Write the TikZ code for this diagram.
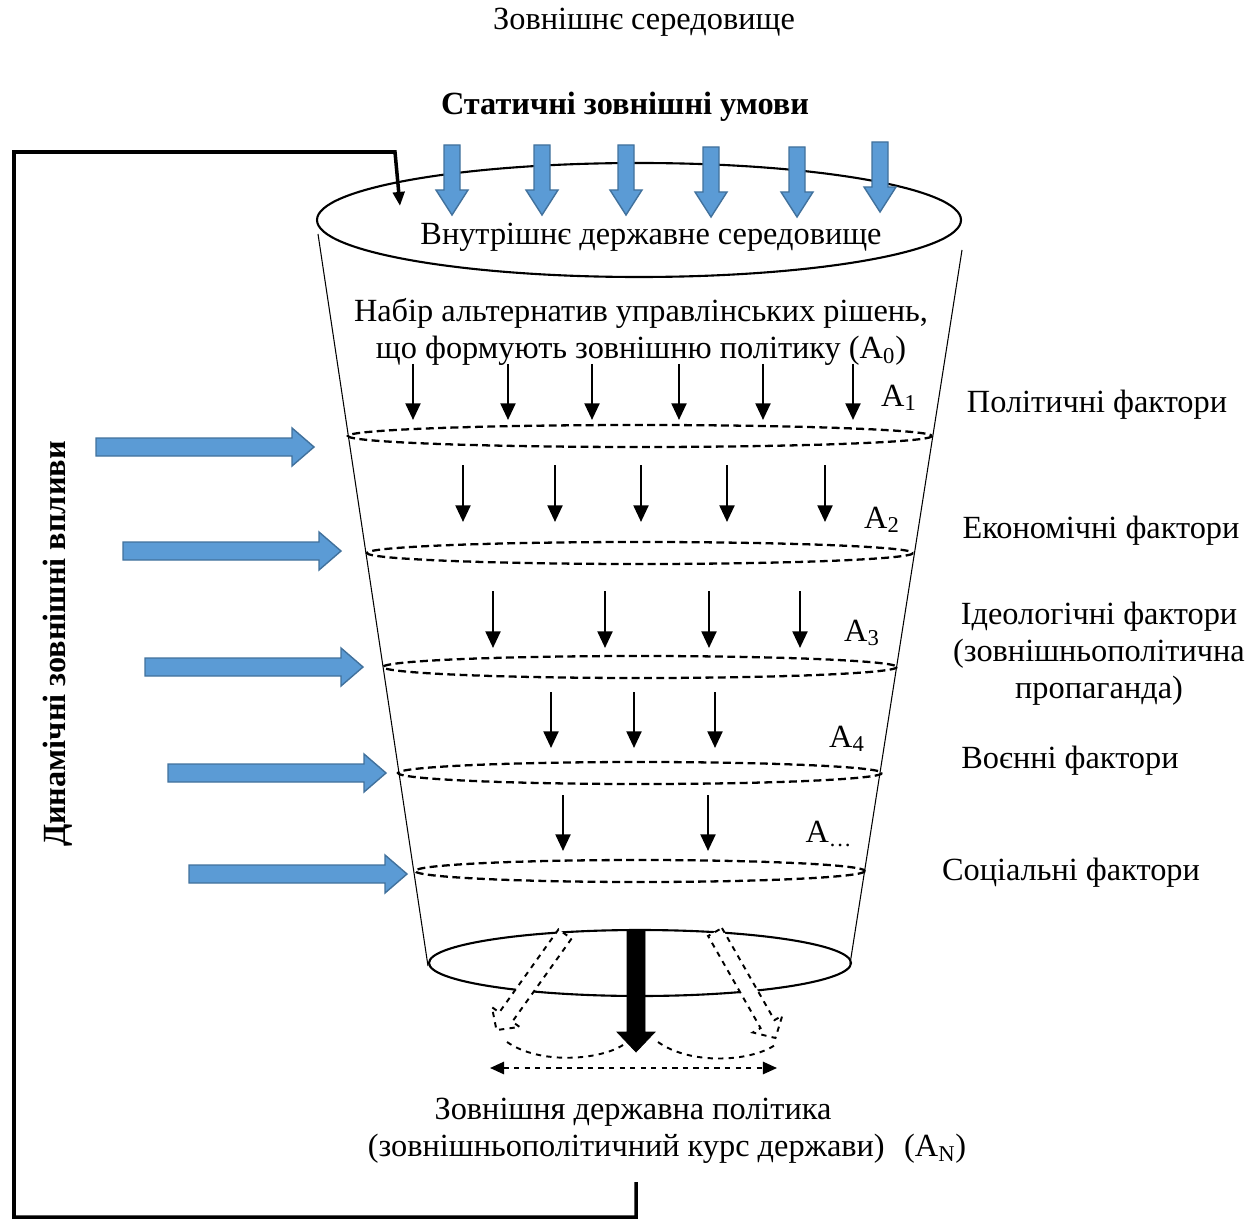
\documentclass[tikz,border=0pt]{standalone}
\usepackage{fontspec}
\setmainfont{Liberation Serif}
\usetikzlibrary{arrows.meta}

\definecolor{blockfill}{HTML}{5B9BD5}
\definecolor{blockline}{HTML}{41719C}

% block arrow: style, tail (x,y), angle, length, shaft half-width, head half-width, head length
\newcommand{\blockarrow}[8]{%
  \draw[#1, shift={(#2,#3)}, rotate=#4]
    (0,-#6) -- ({#5-#8},-#6) -- ({#5-#8},-#7) -- (#5,0)
    -- ({#5-#8},#7) -- ({#5-#8},#6) -- (0,#6) -- cycle;}

\begin{document}
\begin{tikzpicture}[x=0.02cm, y=-0.02cm,
    font=\fontsize{18.4}{21}\selectfont,
    bluearrow/.style={fill=blockfill, draw=blockline, line width=0.8pt},
    hollowarrow/.style={draw, dashed, fill=white, line width=1.1pt},
    thinarrow/.style={-{Triangle[width=8.5pt,length=9.5pt]}, line width=1.4pt},
    level/.style={line width=1.3pt, dash pattern=on 4.5pt off 2.5pt},
    feedback/.style={line width=2pt, -{Triangle[width=6.5pt,length=8pt]}}]
  \useasboundingbox (0,0) rectangle (1256,1219);

  % funnel
  \draw [line width=0.6pt] (318,234) -- (428,966);
  \draw [line width=0.6pt] (962,250) -- (850,964);
  \draw [line width=1.2pt, fill=white] (639,220) ellipse [x radius=322, y radius=57];
  \draw [line width=1.2pt] (640,963) ellipse [x radius=211, y radius=33];
  \foreach \y/\r in {436/292, 553/273, 667/257, 773/242, 871/225}
    \draw [level] (640,\y) ellipse [x radius=\r, y radius=11];

  % static conditions
  \foreach \x/\y in {452/145, 542/145, 626/145, 711/147, 797/147, 880/142}
    {\blockarrow{bluearrow}{\x}{\y}{-90}{70}{8}{16}{25}}
  % dynamic influences
  \foreach \x/\y in {96/447, 123/551, 145/667, 168/773, 189/874}
    {\blockarrow{bluearrow}{\x}{\y}{0}{218}{9}{19}{22}}

  % alternatives passing each level
  \foreach \x in {413, 508, 592, 679, 763, 853}
    \draw [thinarrow] (\x,364) -- (\x,420);
  \foreach \x in {463, 555, 641, 727, 825}
    \draw [thinarrow] (\x,465) -- (\x,522);
  \foreach \x in {493, 605, 709, 800}
    \draw [thinarrow] (\x,591) -- (\x,648);
  \foreach \x in {551, 634, 715}
    \draw [thinarrow] (\x,692) -- (\x,748);
  \foreach \x in {563, 708}
    \draw [thinarrow] (\x,795) -- (\x,851);

  % output
  \blockarrow{hollowarrow}{565}{934}{-125.5}{118}{8}{17}{16}
  \blockarrow{hollowarrow}{715}{932}{-60.3}{122}{8}{17}{16}
  \blockarrow{fill=black}{636}{930}{-90}{122}{9}{19}{20}
  \draw [dashed, line width=1.1pt] (507,1042) .. controls (540,1065) and (600,1060) .. (623,1045);
  \draw [dashed, line width=1.1pt] (658,1042) .. controls (690,1065) and (750,1062) .. (775,1045);
  \coordinate (left) at (490,1068);
  \coordinate (right) at (777,1068);
  \draw [dashed, line width=1.1pt, {Triangle[width=7pt,length=8pt]}-{Triangle[width=7pt,length=8pt]}] (left) -- (right);

  % texts
  \node (outer) at (644,22) {Зовнішнє середовище};
  \node (static) at (625,107) {\textbf{Статичні зовнішні умови}};
  \node (inner) at (651,237) {Внутрішнє державне середовище};
  \node (alts) [align=center] at (641,332) {Набір альтернатив управлінських рішень,\\
    що формують зовнішню політику (A\textsubscript{0})};
  \node (a1) at (899,398) {A\textsubscript{1}};
  \node (a2) at (882,520) {A\textsubscript{2}};
  \node (a3) at (862,633) {A\textsubscript{3}};
  \node (a4) at (847,739) {A\textsubscript{4}};
  \node (an) at (829,834) {A\textsubscript{…}};
  \node (pol) at (1097,405) {Політичні фактори};
  \node (eco) at (1101,531) {Економічні фактори};
  \node (ideo) [align=center] at (1099,654) {Ідеологічні фактори\\
    (зовнішньополітична\\ пропаганда)};
  \node (mil) at (1070,761) {Воєнні фактори};
  \node (soc) at (1071,873) {Соціальні фактори};
  \node (dyn) [rotate=90] at (58,644) {\textbf{Динамічні зовнішні впливи}};
  \node (res) at (633,1112) {Зовнішня державна політика};
  \node (course) at (667,1149) {(зовнішньополітичний курс держави)\hspace{0.6em}(A\textsubscript{N})};

  % feedback
  \coordinate (fbstart) at (636,1182);
  \coordinate (fbend) at (400,206);
  \draw [feedback] (fbstart) |- (14,1217) |- (395,152) -- (fbend);
\end{tikzpicture}
\end{document}
